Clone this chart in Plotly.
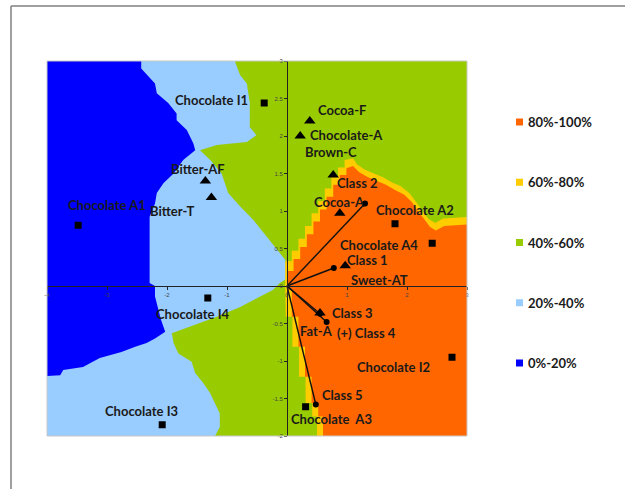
import plotly.graph_objects as go

# ---------------- data ----------------
choc_names = ["Chocolate I1", "Chocolate A1", "Chocolate A2", "Chocolate A4",
              "Chocolate I4", "Chocolate I2", "Chocolate I3", "Chocolate  A3"]
choc_x = [-0.38, -3.48, 1.80, 2.42, -1.32, 2.75, -2.08, 0.31]
choc_y = [2.44, 0.81, 0.83, 0.57, -0.16, -0.95, -1.85, -1.61]

attr_names = ["Cocoa-F", "Chocolate-A", "Brown-C", "Cocoa-A", "Sweet-AT",
              "Fat-A", "Bitter-AF", "Bitter-T"]
attr_x = [0.38, 0.22, 0.77, 0.88, 0.97, 0.55, -1.36, -1.26]
attr_y = [2.20, 2.00, 1.48, 0.97, 0.27, -0.36, 1.40, 1.18]

class_names = ["Class 1", "Class 2", "Class 3", "(+) Class 4", "Class 5"]
class_x = [0.78, 1.30, 0.55, 0.66, 0.48]
class_y = [0.24, 1.10, -0.37, -0.48, -1.58]

# preference-map zones (boundaries)
zone_lightblue_x = [-4, -0.87, -0.78, -0.67, -0.62, -0.62, -0.51, -0.67, -1.17, -1.45, -1.28, -1.09,
                    -0.98, -0.78, -0.56, -0.34, -0.17, -0.03, 0.0, -0.12, -0.23, -0.56, -0.78, -1.17,
                    -1.62, -1.92, -1.89, -1.81, -1.59, -1.53, -1.39, -1.28, -1.12, -1.12, -1.2, -4]
zone_lightblue_y = [3, 3, 2.81, 2.70, 2.44, 2.12, 2.01, 1.92, 1.88, 1.81, 1.68, 1.50,
                    1.24, 1.06, 0.88, 0.66, 0.48, 0.35, 0.10, 0.04, -0.05, -0.19, -0.28, -0.41,
                    -0.54, -0.63, -0.76, -0.90, -1.01, -1.16, -1.30, -1.43, -1.70, -1.88, -2.0, -2]

zone_darkblue_x = [-4, -2.43, -2.43, -2.20, -2.17, -1.98, -1.84, -1.84, -1.67, -1.56, -1.53, -1.73,
                   -1.89, -2.06, -2.17, -2.20, -2.29, -2.29, -2.20, -2.20, -2.10, -2.03, -2.20,
                   -2.34, -2.53, -2.76, -3.12, -3.40, -3.73, -3.78, -4]
zone_darkblue_y = [3, 3, 2.90, 2.70, 2.57, 2.44, 2.30, 2.21, 2.08, 1.90, 1.81, 1.68,
                   1.50, 1.37, 1.24, 1.10, 0.92, 0.04, 0.0, -0.14, -0.45, -0.61, -0.70,
                   -0.76, -0.81, -0.88, -0.96, -1.08, -1.12, -1.19, -1.2]

zone_yellow_x = [-0.03, -0.03, 0.08, 0.08, 0.19, 0.19, 0.30, 0.30, 0.41, 0.41, 0.52, 0.52, 0.63, 0.63,
                 0.74, 0.74, 0.85, 0.85, 0.96, 0.96, 1.10, 1.17, 1.30, 1.45, 1.60, 1.75, 1.90, 2.05,
                 2.15, 2.25, 2.35, 2.47, 2.60, 3.0, 3.0, 0.50, 0.50, 0.42, 0.42, 0.31, 0.31, 0.20,
                 0.20, 0.09, 0.09, -0.02]
zone_yellow_y = [0.0, 0.33, 0.33, 0.47, 0.47, 0.63, 0.63, 0.80, 0.80, 0.97, 0.97, 1.13, 1.13, 1.30,
                 1.30, 1.45, 1.45, 1.58, 1.58, 1.68, 1.70, 1.62, 1.55, 1.50, 1.45, 1.38, 1.33, 1.23,
                 1.12, 1.02, 0.90, 0.84, 0.90, 0.92, -2.0, -2.0, -1.74, -1.74, -1.56, -1.56, -1.21, -1.21,
                 -0.81, -0.81, -0.41, -0.41]

zone_orange_x = [0.0, 0.0, 0.11, 0.11, 0.22, 0.22, 0.33, 0.33, 0.44, 0.44, 0.55, 0.55, 0.66, 0.66,
                 0.77, 0.77, 0.88, 0.88, 0.99, 0.99, 1.10, 1.20, 1.35, 1.50, 1.65, 1.80, 1.95, 2.08,
                 2.18, 2.28, 2.38, 2.48, 2.62, 3.0, 3.0, 0.60, 0.60, 0.52, 0.52, 0.41, 0.41, 0.30,
                 0.30, 0.19, 0.19, 0.08, 0.08]
zone_orange_y = [-0.05, 0.20, 0.20, 0.36, 0.36, 0.52, 0.52, 0.69, 0.69, 0.86, 0.86, 1.02, 1.02, 1.19,
                 1.19, 1.35, 1.35, 1.48, 1.48, 1.57, 1.60, 1.52, 1.45, 1.40, 1.35, 1.28, 1.22, 1.12,
                 1.00, 0.90, 0.79, 0.74, 0.80, 0.82, -2.0, -2.0, -1.74, -1.74, -1.56, -1.56, -1.21, -1.21,
                 -0.81, -0.81, -0.41, -0.41, -0.05]

legend_labels = ["80%-100%", "60%-80%", "40%-60%", "20%-40%", "0%-20%"]
legend_colors = ["#FF6600", "#FFCC00", "#99CC00", "#99CCFF", "#0000FF"]

x_ticks = [-4, -3, -2, -1, 0, 1, 2, 3]
y_ticks = [-2, -1.5, -1, -0.5, 0, 0.5, 1, 1.5, 2, 2.5, 3]

# ---------------- style / layout ----------------
W, H = 625, 489
L, R, T, B = 47, 158, 61, 53
PW, PH = W - L - R, H - T - B
XR, YR = (-4, 3), (-2, 3)

def px(xp):
    return (xp - L) / PW

def py(yp):
    return (H - B - yp) / PH

C_ORANGE, C_YELLOW, C_GREEN, C_LBLUE, C_DBLUE = legend_colors

# label offsets (pixels) and anchors
choc_off = {"Chocolate I1": (-14, 3, "right"), "Chocolate A1": (29, 20, "center"),
            "Chocolate A2": (20, 14, "center"), "Chocolate A4": (-12, -2, "right"),
            "Chocolate I4": (-15, -16, "center"), "Chocolate I2": (-20, -10, "right"),
            "Chocolate I3": (-21, 14, "center"), "Chocolate  A3": (26, -12, "center")}
attr_off = {"Cocoa-F": (6, 11, "left"), "Chocolate-A": (8, 1, "left"), "Brown-C": (-2, 23, "center"),
            "Cocoa-A": (0, 11, "center"), "Sweet-AT": (4, -14, "left"), "Fat-A": (-4, -18, "center"),
            "Bitter-AF": (-7, 12, "center"), "Bitter-T": (-14, -13, "right")}
class_off = {"Class 1": (11, 8, "left"), "Class 2": (-8, 21, "center"), "Class 3": (10, 1, "left"),
             "(+) Class 4": (8, -11, "left"), "Class 5": (4, 10, "left")}

fig = go.Figure()

for zx, zy, col in [(zone_lightblue_x, zone_lightblue_y, C_LBLUE),
                    (zone_darkblue_x, zone_darkblue_y, C_DBLUE),
                    (zone_yellow_x, zone_yellow_y, C_YELLOW),
                    (zone_orange_x, zone_orange_y, C_ORANGE)]:
    fig.add_trace(go.Scatter(x=zx, y=zy, mode="lines", fill="toself", fillcolor=col,
                             line=dict(width=0, color=col), hoverinfo="skip", showlegend=False))

# vectors from origin to classes
for cx, cy in zip(class_x, class_y):
    fig.add_trace(go.Scatter(x=[0, cx], y=[0, cy], mode="lines",
                             line=dict(color="#111111", width=1.4), showlegend=False, hoverinfo="skip"))

fig.add_trace(go.Scatter(x=choc_x, y=choc_y, mode="markers", showlegend=False,
                         marker=dict(symbol="square", size=7, color="black")))
fig.add_trace(go.Scatter(x=attr_x, y=attr_y, mode="markers", showlegend=False,
                         marker=dict(symbol="triangle-up", size=10, color="black")))
fig.add_trace(go.Scatter(x=class_x, y=class_y, mode="markers", showlegend=False,
                         marker=dict(symbol="circle", size=6, color="black")))

lab_font = dict(family="Lato", size=13, color="#1a1a1a", weight="bold")
annotations = []
for names, xs, ys, off in [(choc_names, choc_x, choc_y, choc_off),
                           (attr_names, attr_x, attr_y, attr_off),
                           (class_names, class_x, class_y, class_off)]:
    for n, x, y in zip(names, xs, ys):
        dx, dy, anc = off[n]
        annotations.append(dict(x=x, y=y, text=n, showarrow=False, xanchor=anc, yanchor="middle",
                                xshift=dx, yshift=dy, font=lab_font))

shapes = []
# legend
for i, (lab, col) in enumerate(zip(legend_labels, legend_colors)):
    yc = 122 + i * 60.25
    shapes.append(dict(type="rect", xref="paper", yref="paper",
                       x0=px(516), x1=px(523), y0=py(yc + 3.5), y1=py(yc - 3.5),
                       fillcolor=col, line=dict(width=0)))
    annotations.append(dict(xref="paper", yref="paper", x=px(526), y=py(yc), text=lab,
                            showarrow=False, xanchor="left", yanchor="middle",
                            font=dict(family="Lato", size=13, color="#1a1a1a", weight="bold")))

# plot border
shapes.append(dict(type="rect", xref="paper", yref="paper", x0=0, x1=1, y0=0, y1=1,
                   line=dict(color="#c8c8c8", width=1), layer="above"))
# outer frame (top and left)
shapes.append(dict(type="line", xref="paper", yref="paper", x0=px(11), x1=px(626), y0=py(6), y1=py(6),
                   line=dict(color="#808080", width=1.5)))
shapes.append(dict(type="line", xref="paper", yref="paper", x0=px(11), x1=px(11), y0=py(6), y1=py(490),
                   line=dict(color="#808080", width=1.5)))

tick_font = dict(family="Liberation Sans", size=6, color="#444444")
fig.update_layout(
    width=W, height=H, margin=dict(l=L, r=R, t=T, b=B, pad=0),
    paper_bgcolor="white", plot_bgcolor=C_GREEN,
    xaxis=dict(range=list(XR), tickvals=x_ticks, ticktext=[str(v) for v in x_ticks],
               showgrid=False, zeroline=False, showline=True, linecolor="#222222", linewidth=1,
               anchor="free", position=(0 - YR[0]) / (YR[1] - YR[0]),
               ticks="outside", ticklen=3, tickcolor="#222222", tickfont=tick_font, ticklabelstandoff=0),
    yaxis=dict(range=list(YR), tickvals=y_ticks, ticktext=[f"{v:g}" for v in y_ticks],
               showgrid=False, zeroline=False, showline=True, linecolor="#222222", linewidth=1,
               anchor="free", position=(0 - XR[0]) / (XR[1] - XR[0]),
               ticks="outside", ticklen=3, tickcolor="#222222", tickfont=tick_font),
    annotations=annotations, shapes=shapes,
)

fig.write_html("out.html")
